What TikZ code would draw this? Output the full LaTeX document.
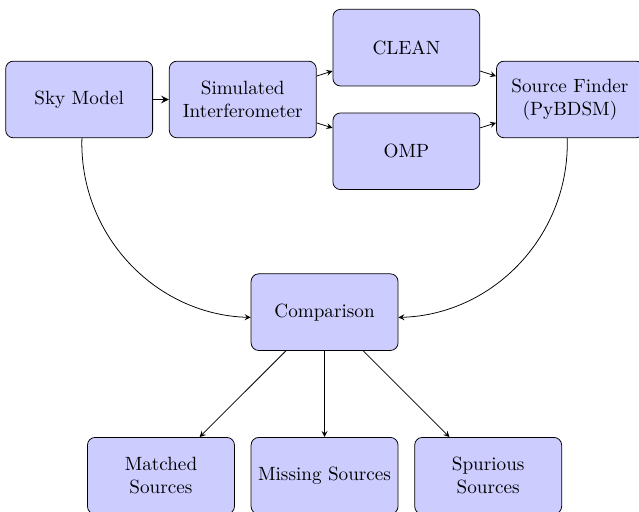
\documentclass[tikz,border=0pt]{standalone}
\usepackage{tikz}
\usetikzlibrary{arrows,shapes,positioning}
\tikzstyle{block} = [rectangle, draw, fill=blue!20, text width=7em, text centered, rounded corners, minimum height=4em]
\tikzstyle{arrow} = [->,>=stealth]

\begin{document}
\begin{tikzpicture}[node distance=3cm]
\useasboundingbox (-41.3pt,-215.2pt) rectangle (292.1pt,51.9pt);
% Simulation chain
\node (sky) [block] {Sky Model};
\node (sim) [block, right of=sky] {Simulated Interferometer};
\node (clean) [block, right of=sim, yshift=0.95cm] {CLEAN};
\node (omp) [block, right of=sim, yshift=-0.95cm] {OMP};
\node (finder) [block, right of=sim, xshift=3cm] {Source Finder (PyBDSM)};

% Comparison
\node (comp) [block, below of=sim, xshift=1.5cm, yshift=-0.9cm] {Comparison};

% Results
\node (missing) [block, below of=comp] {Missing Sources};
\node (matched) [block, left of=missing] {Matched Sources};
\node (spurious) [block, right of=missing] {Spurious Sources};

% Arrows
\draw[arrow, thick] (sky) -- (sim);
\draw[arrow] (sim) -- (clean);
\draw[arrow] (sim) -- (omp);
\draw[arrow] (clean) -- (finder);
\draw[arrow] (omp) -- (finder);
\draw[arrow] (sky) to[bend right=45] (comp);
\draw[arrow] (finder) to[bend left=45] (comp);
\draw[arrow] (comp) -- (matched);
\draw[arrow] (comp) -- (missing);
\draw[arrow] (comp) -- (spurious);
\end{tikzpicture}
\end{document}
